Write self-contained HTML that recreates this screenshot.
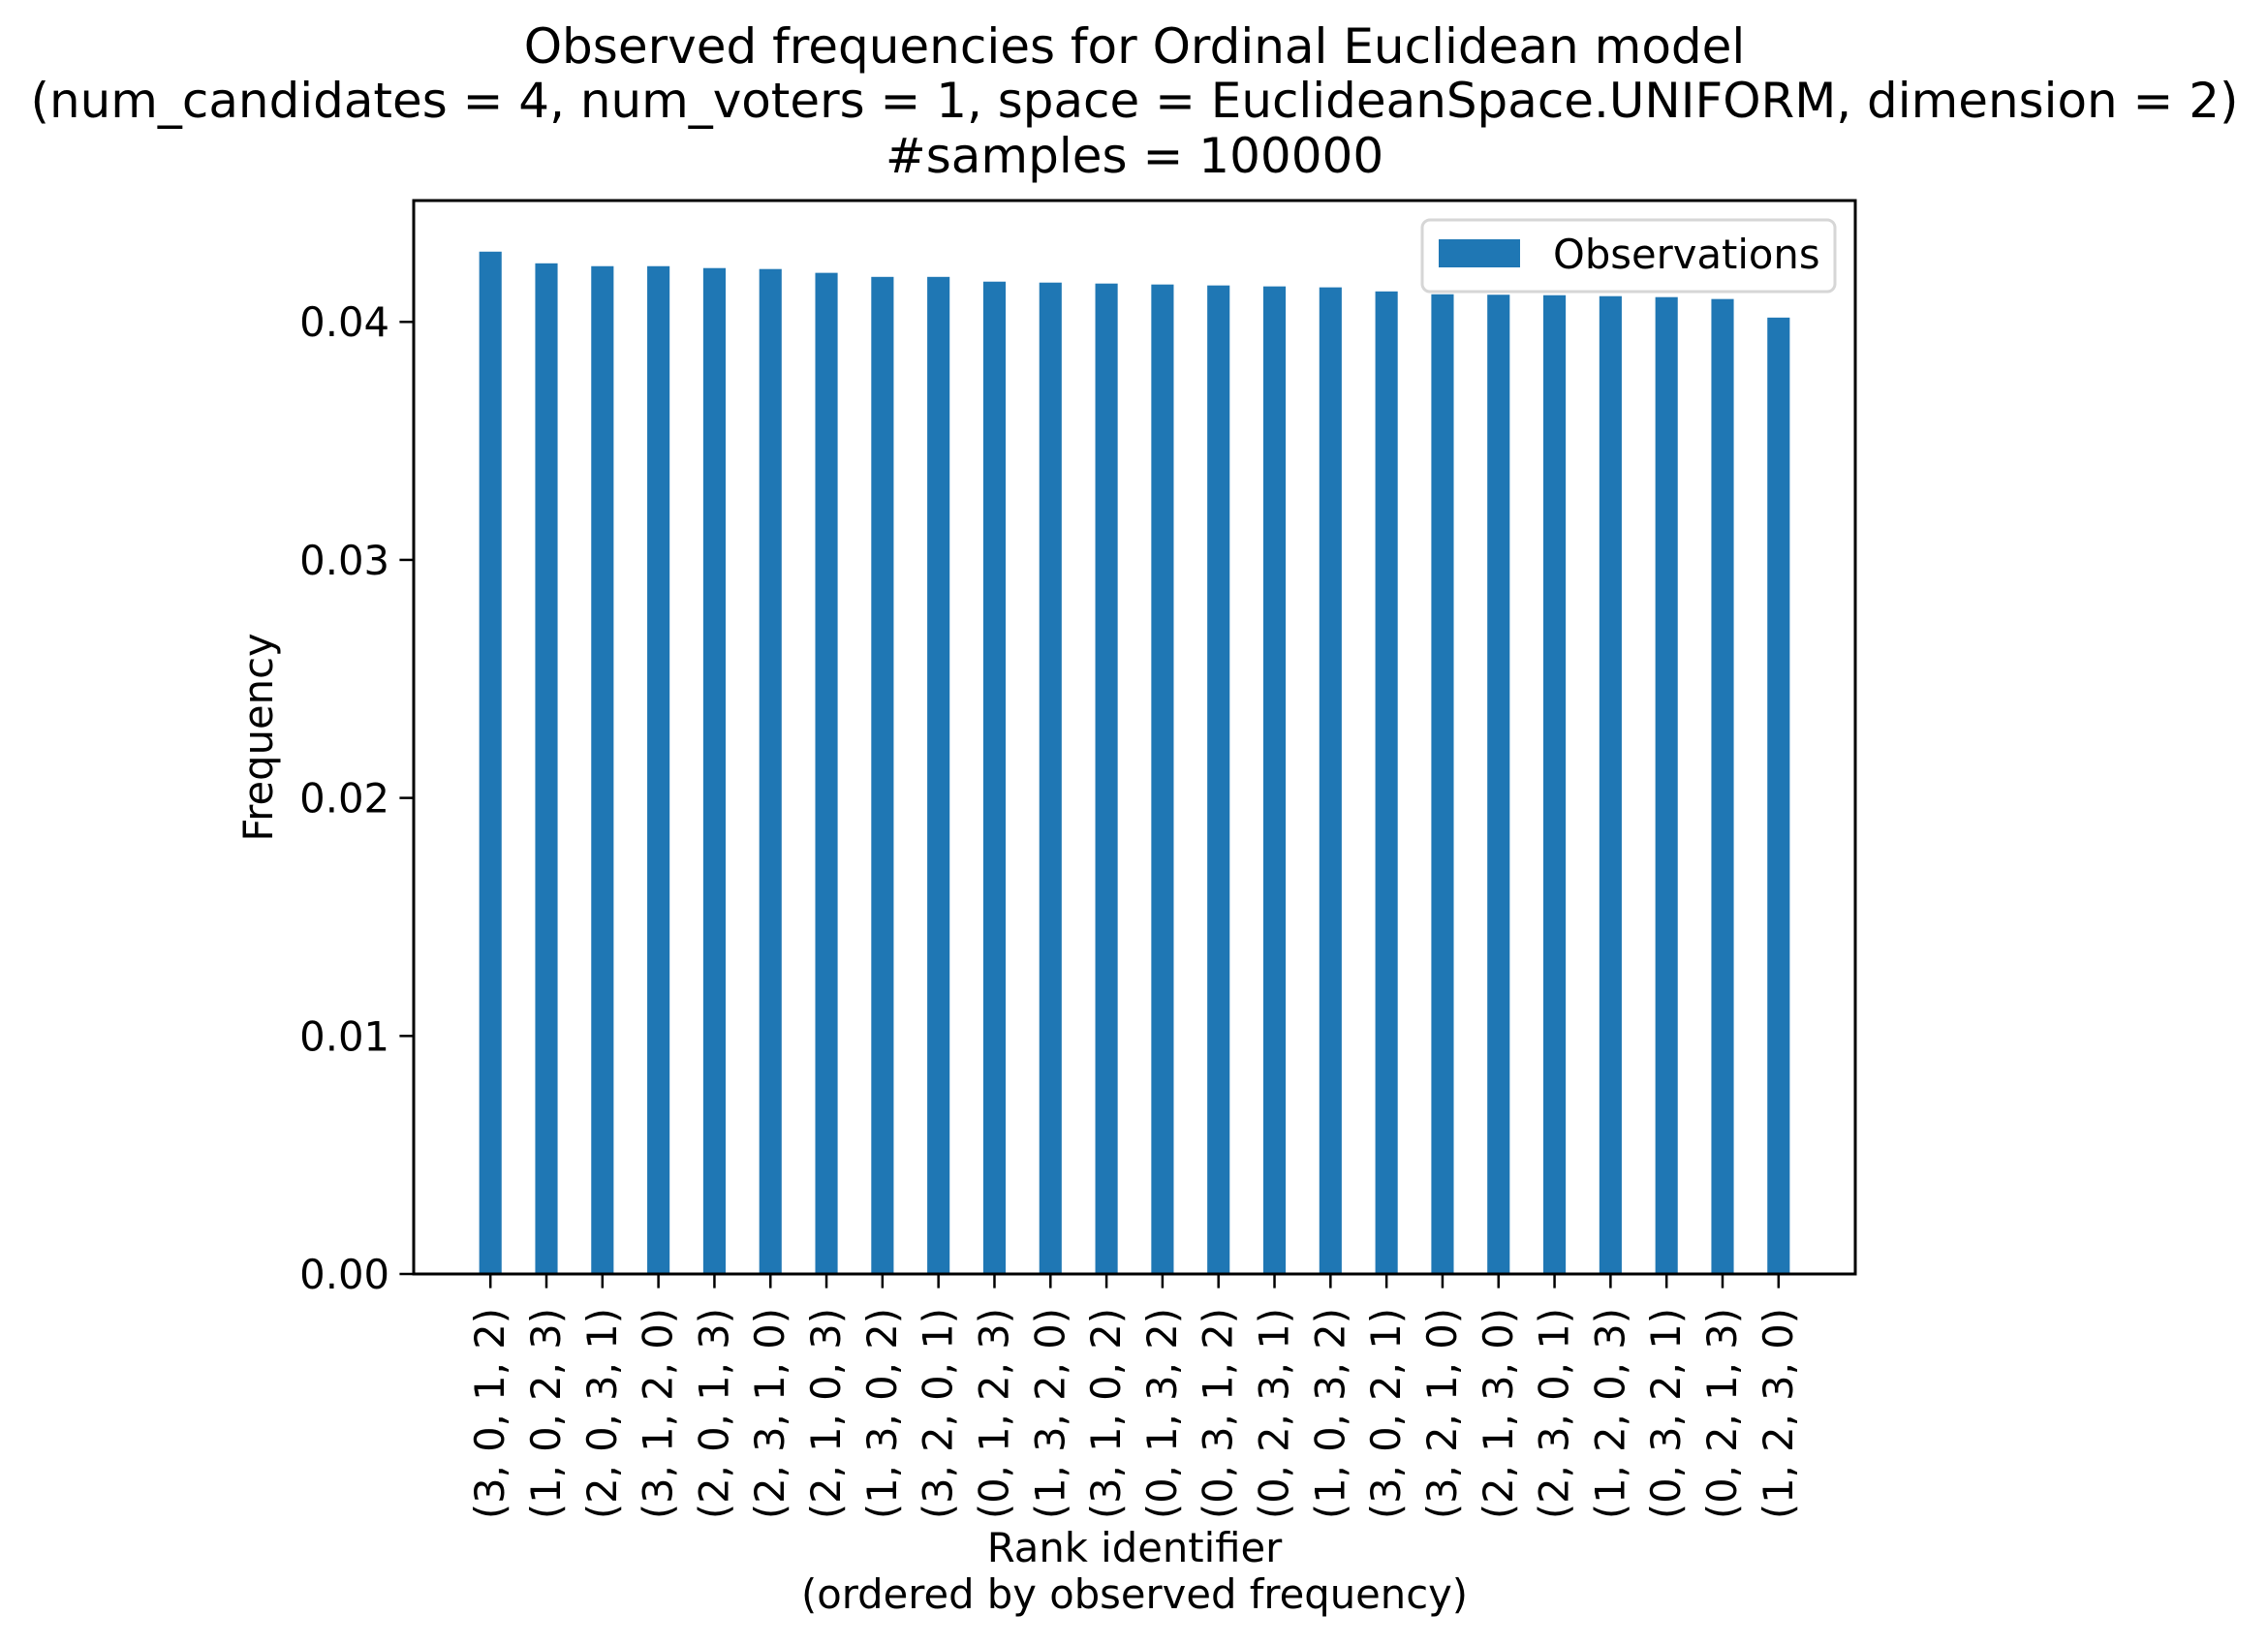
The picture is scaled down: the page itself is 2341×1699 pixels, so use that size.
<!DOCTYPE html>
<html><head><meta charset="utf-8"><style>
html,body{margin:0;padding:0;background:#fff}
svg{display:block;font-family:"DejaVu Sans","Liberation Sans",sans-serif}
</style></head><body>
<svg id="chart" width="2341" height="1699" viewBox="0 0 2341 1699" xmlns="http://www.w3.org/2000/svg">
<rect width="2341" height="1699" fill="#fff"/>
<g font-size="50" text-anchor="middle" fill="#000">
<text x="1171" y="65">Observed frequencies for Ordinal Euclidean model</text>
<text x="1171" y="121" textLength="2279" lengthAdjust="spacingAndGlyphs">(num_candidates = 4, num_voters = 1, space = EuclideanSpace.UNIFORM, dimension = 2)</text>
<text x="1171" y="178">#samples = 100000</text>
</g>
<g id="bars"></g>
<g id="xticks"></g>
<g id="yticks"></g>
<rect x="427" y="207" width="1488" height="1108" fill="none" stroke="#000" stroke-width="3"/>
<text transform="translate(281,761) rotate(-90)" font-size="41.7" text-anchor="middle">Frequency</text>
<g font-size="41.7" text-anchor="middle">
<text x="1171" y="1612">Rank identifier</text>
<text x="1171" y="1660">(ordered by observed frequency)</text>
</g>
<g>
<rect x="1468" y="227" width="426" height="74" rx="8" fill="#fff" fill-opacity="0.8" stroke="#d6d6d6" stroke-width="3"/>
<rect x="1485" y="247" width="84" height="29" fill="#1f77b4"/>
<text x="1603" y="277" font-size="41.7">Observations</text>
</g>
</svg>
<script>
const categories = ["(3, 0, 1, 2)","(1, 0, 2, 3)","(2, 0, 3, 1)","(3, 1, 2, 0)","(2, 0, 1, 3)","(2, 3, 1, 0)","(2, 1, 0, 3)","(1, 3, 0, 2)","(3, 2, 0, 1)","(0, 1, 2, 3)","(1, 3, 2, 0)","(3, 1, 0, 2)","(0, 1, 3, 2)","(0, 3, 1, 2)","(0, 2, 3, 1)","(1, 0, 3, 2)","(3, 0, 2, 1)","(3, 2, 1, 0)","(2, 1, 3, 0)","(2, 3, 0, 1)","(1, 2, 0, 3)","(0, 3, 2, 1)","(0, 2, 1, 3)","(1, 2, 3, 0)"];
const frequencies = [0.04295,0.04246,0.04234,0.04234,0.04226,0.04222,0.04206,0.04189,0.04189,0.04169,0.04165,0.04161,0.04157,0.04153,0.04149,0.04145,0.04128,0.04116,0.04114,0.04112,0.04108,0.04104,0.04096,0.04018];
const yTickValues = [0,0.01,0.02,0.03,0.04];
const yTickLabels = ["0.00","0.01","0.02","0.03","0.04"];

const NS="http://www.w3.org/2000/svg";
const L=427,R=1915,T=207,B=1315;
const xMin=-1.37, xMax=(categories.length-1)+1.37;
const yMin=0, yMax=Math.max(...frequencies)*1.05;
function xs(i){return L+(i-xMin)/(xMax-xMin)*(R-L);}
function ys(v){return B-(v-yMin)/(yMax-yMin)*(B-T);}
const unit=(R-L)/(xMax-xMin), bw=0.4*unit;
const bars=document.getElementById('bars'), xt=document.getElementById('xticks'), yt=document.getElementById('yticks');
function mk(tag,attrs){const e=document.createElementNS(NS,tag);for(const k in attrs)e.setAttribute(k,attrs[k]);return e;}
frequencies.forEach((v,i)=>{
  const r=mk('rect',{x:xs(i)-bw/2,y:ys(v),width:bw,height:ys(0)-ys(v),fill:'#1f77b4'});
  
  
  bars.appendChild(r);
});
categories.forEach((c,i)=>{
  const x=xs(i);
  const tk=mk('line',{x1:x,x2:x,y1:B,y2:B+14.6,stroke:'#000','stroke-width':2.5});
  
  
  xt.appendChild(tk);
  const t=mk('text',{transform:`translate(${x+14},1350) rotate(-90)`,'font-size':41.7,'text-anchor':'end'});
  
  
  t.textContent=c;
  xt.appendChild(t);
});
yTickValues.forEach((v,i)=>{
  const y=ys(v);
  const tk=mk('line',{x1:L-14.6,x2:L,y1:y,y2:y,stroke:'#000','stroke-width':2.5});
  
  
  yt.appendChild(tk);
  const t=mk('text',{x:L-25,y:y+15,'font-size':41.7,'text-anchor':'end'});
  
  
  t.textContent=yTickLabels[i];
  yt.appendChild(t);
});
</script>
</body></html>
